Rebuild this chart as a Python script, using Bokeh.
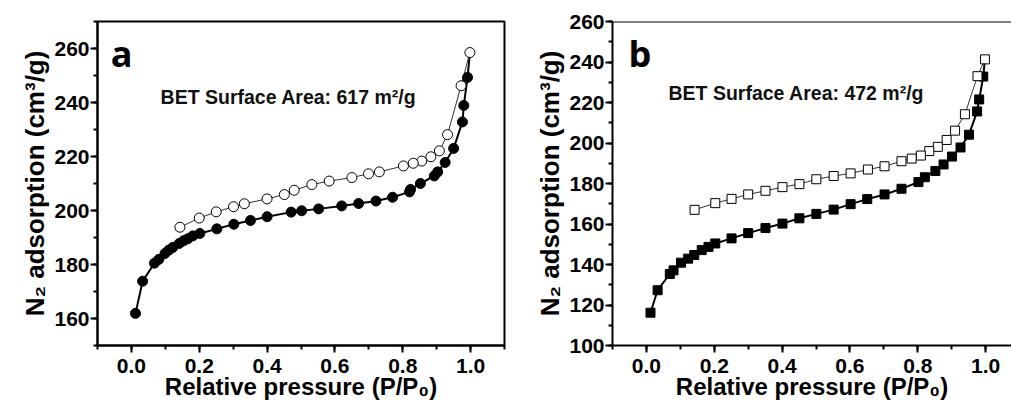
from bokeh.plotting import figure
from bokeh.layouts import row
from bokeh.models import SingleIntervalTicker, Span, Label, PrintfTickFormatter
from bokeh.embed import file_html
from bokeh.resources import INLINE

# ---------------- data: panel a ----------------
a_ads_x = [0.012, 0.033, 0.068, 0.081, 0.099, 0.110, 0.122, 0.141, 0.154, 0.166, 0.181, 0.202,
           0.252, 0.302, 0.351, 0.400, 0.471, 0.502, 0.552, 0.620, 0.670, 0.721, 0.770, 0.820,
           0.823, 0.852, 0.893, 0.903, 0.925, 0.950, 0.976, 0.980, 0.991]
a_ads_y = [161.9, 173.8, 180.5, 181.9, 184.1, 185.3, 186.3, 187.8, 188.8, 189.5, 190.6, 191.5,
           193.2, 194.9, 196.3, 197.7, 199.4, 199.9, 200.6, 201.7, 202.6, 203.5, 204.9, 206.9,
           207.8, 210.0, 212.8, 214.3, 217.8, 223.0, 232.8, 238.9, 249.3]
a_des_x = [0.998, 0.972, 0.932, 0.908, 0.883, 0.856, 0.831, 0.802, 0.731, 0.699, 0.650, 0.583,
           0.532, 0.480, 0.451, 0.400, 0.333, 0.301, 0.250, 0.200, 0.143]
a_des_y = [258.5, 246.2, 228.1, 222.1, 219.9, 218.3, 217.5, 216.5, 214.3, 213.6, 212.2, 210.9,
           209.6, 207.5, 205.9, 204.3, 202.5, 201.4, 199.5, 197.2, 193.8]

# ---------------- data: panel b ----------------
b_ads_x = [0.012, 0.033, 0.069, 0.080, 0.102, 0.123, 0.141, 0.163, 0.183, 0.203, 0.251, 0.300,
           0.351, 0.401, 0.451, 0.501, 0.552, 0.602, 0.651, 0.702, 0.752, 0.802, 0.821, 0.852,
           0.876, 0.901, 0.926, 0.951, 0.975, 0.981, 0.993]
b_ads_y = [116.2, 127.3, 135.3, 137.1, 140.9, 142.9, 144.7, 147.1, 148.7, 150.4, 152.9, 155.5,
           158.0, 160.2, 162.8, 165.0, 167.1, 169.8, 172.3, 174.6, 177.4, 180.7, 183.1, 186.2,
           189.4, 193.3, 197.8, 204.1, 215.6, 221.5, 232.8]
b_des_x = [0.998, 0.976, 0.939, 0.910, 0.885, 0.859, 0.834, 0.809, 0.782, 0.752, 0.702, 0.653,
           0.602, 0.552, 0.501, 0.451, 0.401, 0.351, 0.300, 0.251, 0.203, 0.142]
b_des_y = [241.3, 233.0, 214.2, 206.1, 201.5, 198.1, 196.0, 193.8, 192.3, 191.0, 188.5, 186.9,
           185.0, 183.7, 182.1, 179.7, 178.2, 176.4, 174.6, 172.4, 170.3, 167.0]

x_title = "Relative pressure (P/P\u2080)"
y_title = "N\u2082 adsorption (cm\u00b3/g)"
panel_labels = ["a", "b"]
bet_texts = ["BET Surface Area: 617 m\u00b2/g", "BET Surface Area: 472 m\u00b2/g"]

FONT = "Liberation Sans"


def style(p, y_interval):
    p.grid.visible = False
    p.background_fill_color = "white"
    p.border_fill_color = "white"
    p.xaxis.ticker = SingleIntervalTicker(interval=0.2, num_minor_ticks=2)
    p.yaxis.ticker = SingleIntervalTicker(interval=y_interval, num_minor_ticks=2)
    p.xaxis.formatter = PrintfTickFormatter(format="%.1f")
    for ax in (p.xaxis, p.yaxis):
        ax.axis_line_width = 2
        ax.axis_line_color = "black"
        ax.major_tick_line_width = 2
        ax.minor_tick_line_width = 2
        ax.major_tick_line_color = "black"
        ax.minor_tick_line_color = "black"
        ax.major_tick_in = 0
        ax.major_tick_out = 7
        ax.minor_tick_in = 0
        ax.minor_tick_out = 4
        ax.major_label_text_font = FONT
        ax.major_label_text_font_style = "bold"
        ax.major_label_text_font_size = "21px"
        ax.major_label_text_color = "black"
        ax.axis_label_text_font = FONT
        ax.axis_label_text_font_style = "bold"
        ax.axis_label_text_color = "black"
    p.xaxis.major_label_standoff = 6
    p.yaxis.major_label_standoff = 1
    p.xaxis.axis_label = x_title
    p.yaxis.axis_label = y_title
    p.xaxis.axis_label_text_font_size = "24px"
    p.yaxis.axis_label_text_font_size = "26px"
    p.xaxis.axis_label_standoff = -3
    p.yaxis.axis_label_standoff = 1


def draw(p, ads_x, ads_y, des_x, des_y, marker):
    # adsorption line runs up to the shared top point of the desorption branch
    p.line(ads_x + des_x[:1], ads_y + des_y[:1], line_color="black", line_width=2)
    p.line(des_x, des_y, line_color="#333333", line_width=1)
    p.scatter(ads_x, ads_y, marker=marker, size=10 if marker == "circle" else 9,
              fill_color="black", line_color="black", line_width=1)
    p.scatter(des_x, des_y, marker=marker, size=10 if marker == "circle" else 9,
              fill_color="white", line_color="black", line_width=1)


# ---------------- panel a ----------------
pa = figure(width=509, height=407, x_range=(-0.1, 1.1), y_range=(150, 270),
            output_backend="svg", toolbar_location=None,
            min_border_left=97, min_border_right=5, min_border_top=21, min_border_bottom=62)
style(pa, 20)
pa.outline_line_color = "black"
pa.outline_line_width = 2
draw(pa, a_ads_x, a_ads_y, a_des_x, a_des_y, "circle")
pa.add_layout(Label(x=-0.061, y=258.0, text=panel_labels[0], text_font="Open Sans",
                    text_font_style="bold", text_font_size="36px", text_color="black",
                    text_baseline="alphabetic"))
pa.add_layout(Label(x=0.086, y=241.9, text=bet_texts[0], text_font=FONT,
                    text_font_style="bold", text_font_size="19.5px", text_color="#111111",
                    text_baseline="middle"))

# ---------------- panel b ----------------
pb = figure(width=502, height=407, x_range=(-0.1, 1.0763), y_range=(100, 260),
            output_backend="svg", toolbar_location=None,
            min_border_left=103, min_border_right=0, min_border_top=21, min_border_bottom=62)
style(pb, 20)
pb.outline_line_color = None
pb.add_layout(Span(location=260, dimension="width", line_color="black", line_width=2))
draw(pb, b_ads_x, b_ads_y, b_des_x, b_des_y, "square")
pb.add_layout(Label(x=-0.053, y=244.0, text=panel_labels[1], text_font="Open Sans",
                    text_font_style="bold", text_font_size="36px", text_color="black",
                    text_baseline="alphabetic"))
pb.add_layout(Label(x=0.065, y=224.9, text=bet_texts[1], text_font=FONT,
                    text_font_style="bold", text_font_size="19.5px", text_color="#111111",
                    text_baseline="middle"))

layout = row(pa, pb)
open("out.html", "w").write(file_html(layout, INLINE))
